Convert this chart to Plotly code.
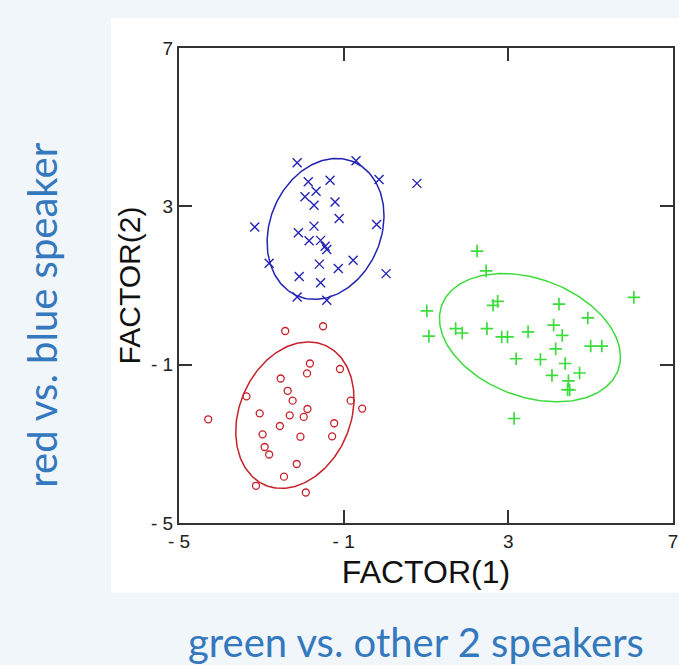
import numpy as np
import plotly.graph_objects as go

# ---------------- data ----------------
blue_x = [-2.13, -0.70, -0.14, 0.78, -1.86, -1.33, -1.67, -1.94, -1.72, -1.21,
          -1.11, -3.16, -0.20, -1.72, -2.10, -1.84, -1.56, -1.45, -1.41, -2.81,
          -1.59, -0.77, -1.13, -2.08, 0.03, -1.56, -2.13, -1.41]
blue_y = [4.10, 4.15, 3.68, 3.58, 3.62, 3.66, 3.38, 3.24, 3.03, 3.11,
          2.69, 2.48, 2.54, 2.50, 2.33, 2.13, 2.14, 1.99, 1.91, 1.56,
          1.54, 1.64, 1.43, 1.23, 1.30, 1.07, 0.71, 0.63]

red_x = [-2.42, -1.50, -1.82, -1.89, -1.09, -2.53, -3.36, -2.36, -2.24, -0.83,
         -0.55, -3.04, -1.88, -2.31, -1.97, -1.23, -2.55, -2.97, -2.05, -1.28,
         -4.29, -2.92, -2.81, -2.14, -2.45, -3.13, -1.92]
red_y = [-0.15, -0.03, -0.97, -1.22, -1.11, -1.35, -1.80, -1.66, -1.91, -1.91,
         -2.11, -2.23, -2.12, -2.28, -2.32, -2.48, -2.55, -2.76, -2.82, -2.81,
         -2.38, -3.08, -3.27, -3.51, -3.83, -4.06, -4.23]

green_x = [2.24, 2.46, 6.05, 2.74, 2.63, 4.23, 1.02, 4.93, 1.07, 1.72,
           1.88, 2.48, 2.84, 2.98, 3.48, 4.10, 4.31, 5.00, 5.27, 4.15,
           3.19, 3.78, 4.38, 4.73, 4.06, 4.46, 4.44, 4.49, 3.14]
green_y = [1.87, 1.37, 0.70, 0.60, 0.50, 0.53, 0.36, 0.18, -0.28, -0.09,
           -0.20, -0.09, -0.30, -0.30, -0.17, 0.00, -0.26, -0.53, -0.53, -0.60,
           -0.85, -0.87, -0.97, -1.21, -1.27, -1.41, -1.63, -1.64, -2.36]

# ellipse: centre and coefficients  x = cx + ax*cos t + bx*sin t ; y = cy + ay*cos t + by*sin t
blue_ell = [-1.44, 2.43, 1.394, 0.268, 0.0, 1.78]
red_ell = [-2.185, -2.275, 1.399, 0.324, 0.0, 1.85]
green_ell = [3.525, -0.318, 2.198, 0.0, -0.485, 1.547]

tick_vals = [-5, -1, 3, 7]
tick_text = ["- 5", "- 1", "3", "7"]

BLUE = "#2424B4"
RED = "#C8202A"
GREEN = "#3CDC3C"
TEXT_BLUE = "#3478BE"
OUTER_BG = "#F1F6FA"

def ellipse(p):
    t = np.linspace(0, 2 * np.pi, 240)
    cx, cy, ax, bx, ay, by = p
    return cx + ax * np.cos(t) + bx * np.sin(t), cy + ay * np.cos(t) + by * np.sin(t)

fig = go.Figure()
for xs, ys, col, sym, sz, lw in [
    (blue_x, blue_y, BLUE, "x-thin", 9, 1.4),
    (red_x, red_y, RED, "circle-open", 7, 1.3),
    (green_x, green_y, GREEN, "cross-thin", 9, 1.7),
]:
    fig.add_trace(go.Scatter(x=xs, y=ys, mode="markers",
                             marker=dict(symbol=sym, size=sz, color=col,
                                         line=dict(color=col, width=lw)),
                             showlegend=False, hoverinfo="x+y"))
for p, col in [(blue_ell, BLUE), (red_ell, RED), (green_ell, GREEN)]:
    ex, ey = ellipse(p)
    fig.add_trace(go.Scatter(x=ex, y=ey, mode="lines", line=dict(color=col, width=1.5),
                             showlegend=False, hoverinfo="skip"))

axis_common = dict(range=[-5, 7], tickvals=tick_vals, ticktext=tick_text,
                   ticks="inside", ticklen=13, tickwidth=1.5, tickcolor="#333",
                   showline=True, linewidth=2, linecolor="#333", mirror="ticks",
                   showgrid=False, zeroline=False,
                   tickfont=dict(family="Liberation Sans", size=19, color="#222"))

fig.update_layout(
    width=679, height=665,
    margin=dict(l=179, r=6, t=48, b=142, autoexpand=False),
    paper_bgcolor=OUTER_BG, plot_bgcolor="white",
    xaxis=dict(**axis_common,
               title=dict(text="FACTOR(1)", standoff=10,
                          font=dict(family="Liberation Sans", size=32, color="#111"))),
    yaxis=dict(**axis_common,
               title=dict(text="FACTOR(2)", standoff=2,
                          font=dict(family="Liberation Sans", size=30, color="#111"))),
    shapes=[dict(type="rect", xref="paper", yref="paper", x0=-0.1377, x1=1.03,
                 y0=-0.147, y1=1.063, fillcolor="white", line=dict(width=0),
                 layer="below")],
    annotations=[
        dict(text="red vs. blue speaker", xref="paper", yref="paper", x=-0.278, y=0.4379,
             textangle=-90, showarrow=False, xanchor="center", yanchor="middle",
             font=dict(family="Lato", size=40, color=TEXT_BLUE)),
        dict(text="green vs. other 2 speakers", xref="paper", yref="paper", x=0.4798, y=-0.25,
             showarrow=False, xanchor="center", yanchor="middle",
             font=dict(family="Lato", size=40, color=TEXT_BLUE)),
    ],
)

fig.write_html("out.html", config={"displayModeBar": False},
               post_script="document.body.style.margin='0';"
                           "document.body.style.background='" + OUTER_BG + "';")
